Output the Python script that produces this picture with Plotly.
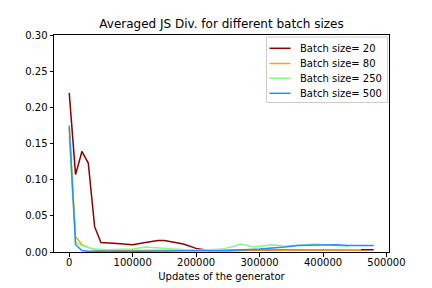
import plotly.graph_objects as go

# Batch size = 20
x_b20 = [0, 10000, 20000, 30000, 40000, 50000, 70000, 90000, 100000, 120000, 140000,
         150000, 160000, 180000, 200000, 220000, 260000, 300000, 340000, 380000, 420000, 460000, 480000]
y_b20 = [0.220, 0.107, 0.139, 0.123, 0.035, 0.013, 0.012, 0.010, 0.010, 0.013, 0.016,
         0.016, 0.014, 0.011, 0.005, 0.002, 0.002, 0.003, 0.003, 0.003, 0.003, 0.003, 0.003]

# Batch size = 80
x_b80 = [0, 10000, 20000, 30000, 40000, 50000, 100000, 150000, 200000, 250000, 300000,
         350000, 400000, 460000]
y_b80 = [0.172, 0.021, 0.010, 0.006, 0.003, 0.002, 0.002, 0.002, 0.002, 0.002, 0.003,
         0.003, 0.003, 0.003]

# Batch size = 250
x_b250 = [0, 10000, 20000, 30000, 40000, 60000, 80000, 100000, 120000, 140000, 160000,
          180000, 200000, 220000, 240000, 260000, 270000, 280000, 290000, 300000, 320000,
          340000, 360000, 380000, 390000, 400000, 420000, 440000]
y_b250 = [0.160, 0.013, 0.009, 0.006, 0.004, 0.003, 0.003, 0.004, 0.007, 0.006, 0.004,
          0.003, 0.002, 0.003, 0.004, 0.008, 0.011, 0.009, 0.007, 0.008, 0.010,
          0.008, 0.009, 0.010, 0.011, 0.010, 0.009, 0.008]

# Batch size = 500
x_b500 = [0, 10000, 20000, 30000, 100000, 200000, 250000, 300000, 320000, 340000, 360000,
          380000, 400000, 420000, 440000, 460000, 480000]
y_b500 = [0.175, 0.010, 0.002, 0.001, 0.001, 0.001, 0.002, 0.004, 0.005, 0.007, 0.009,
          0.0095, 0.010, 0.010, 0.009, 0.0095, 0.009]

names = ["Batch size= 20", "Batch size= 80", "Batch size= 250", "Batch size= 500"]
colors = ["#8b0000", "#ffa500", "#88f888", "#1e90ff"]
xs_all = [x_b20, x_b80, x_b250, x_b500]
ys_all = [y_b20, y_b80, y_b250, y_b500]

x_ticks = [0, 100000, 200000, 300000, 400000, 500000]
y_ticks = [0.00, 0.05, 0.10, 0.15, 0.20, 0.25, 0.30]

W, H = 432, 288
L, R, T, B = 54, 389, 35, 252  # plot area in pixels

def px(x):
    return (x - L) / (R - L)

def py(y):
    return (B - y) / (B - T)

fig = go.Figure()
for name, xs, ys, c in zip(names, xs_all, ys_all, colors):
    fig.add_trace(go.Scatter(x=xs, y=ys, mode="lines", name=name,
                             line=dict(color=c, width=1.5), showlegend=False))

font = "DejaVu Sans, sans-serif"
axis_common = dict(showgrid=False, zeroline=False, showline=True, linecolor="black",
                   linewidth=1, mirror=True, ticks="outside", ticklen=3.5,
                   tickcolor="black", tickfont=dict(size=10, color="black", family=font))

# manual legend (matplotlib style)
shapes = [dict(type="rect", xref="paper", yref="paper",
               x0=px(266.5), x1=px(387.5), y0=py(102.5), y1=py(37),
               line=dict(color="#cccccc", width=1), fillcolor="rgba(255,255,255,0.8)",
               layer="above")]
annotations = []
row_y = [48.3, 63.5, 78.2, 93.3]
for name, c, ry in zip(names, colors, row_y):
    shapes.append(dict(type="line", xref="paper", yref="paper",
                       x0=px(269.5), x1=px(290.5), y0=py(ry), y1=py(ry),
                       line=dict(color=c, width=1.5), layer="above"))
    annotations.append(dict(xref="paper", yref="paper", x=px(298), y=py(ry),
                            xanchor="left", yanchor="middle", text=name, showarrow=False,
                            font=dict(size=10, color="black", family=font)))

fig.update_layout(
    width=W, height=H,
    margin=dict(l=L, r=W - R, t=T, b=H - B, autoexpand=False),
    paper_bgcolor="white", plot_bgcolor="white",
    font=dict(family=font, size=10, color="black"),
    title=dict(text="Averaged JS Div. for different batch sizes", x=0.5, xanchor="center",
               xref="paper", y=1 - 24 / H, yanchor="middle",
               font=dict(size=12, color="black")),
    xaxis=dict(range=[-24000, 504000], tickvals=x_ticks,
               ticktext=[str(v) for v in x_ticks], ticklabelstandoff=-3,
               title=dict(text="Updates of the generator", standoff=6, font=dict(size=10)),
               **axis_common),
    yaxis=dict(range=[0, 0.30], tickvals=y_ticks,
               ticktext=["%.2f" % v for v in y_ticks], **axis_common),
    shapes=shapes,
    annotations=annotations,
    showlegend=False,
    hovermode=False,
)

fig.write_html("out.html", config={"displayModeBar": False, "staticPlot": True},
               post_script="document.body.style.margin='0';document.body.style.overflow='hidden';")
